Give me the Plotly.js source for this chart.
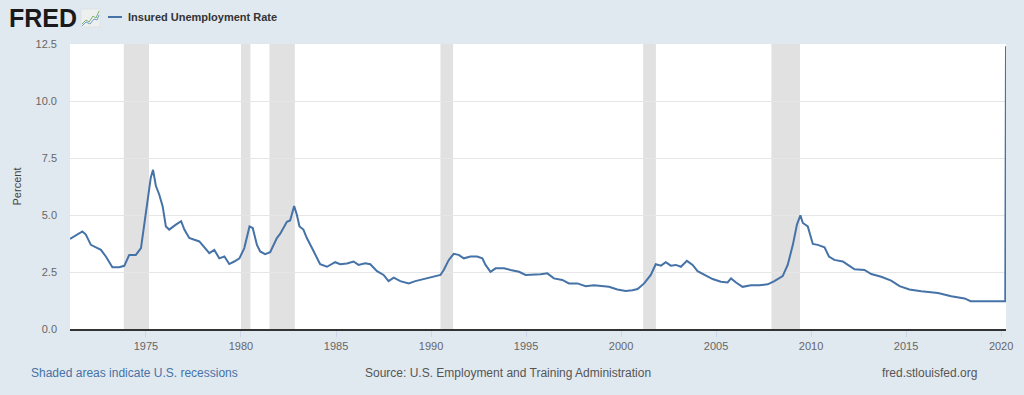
<!DOCTYPE html>
<html>
<head>
<meta charset="utf-8">
<script src="https://cdn.plot.ly/plotly-3.0.1.min.js"></script>
<style>
html,body{margin:0;padding:0;background:#e1e9f0;}
#chart{width:1024px;height:395px;}
</style>
</head>
<body>
<div id="chart"></div>
<script>
// Series: Insured Unemployment Rate (percent)
const dates = [
"1971-01-02","1971-04-22","1971-08-28","1971-11-03","1972-02-07","1972-06-13","1972-08-18","1972-11-21",
"1973-03-27","1973-08-03","1973-11-10","1974-02-14","1974-06-20","1974-09-27","1975-01-01","1975-04-04",
"1975-05-17","1975-07-11","1975-09-13","1975-11-17","1976-01-19","1976-03-23","1976-07-29","1976-11-07",
"1977-01-08","1977-04-11","1977-10-22","1978-01-26","1978-05-03","1978-08-07","1978-11-10","1979-02-17",
"1979-05-21","1979-08-25","1979-12-02","1980-03-05","1980-06-13","1980-08-14","1980-11-03","1981-01-04",
"1981-04-08","1981-07-15","1981-11-21","1982-01-22","1982-03-27","1982-06-02","1982-08-03","1982-10-19",
"1982-12-09","1983-01-30","1983-04-15","1983-06-20","1983-09-27","1983-11-28","1984-03-02","1984-07-11",
"1984-12-16","1985-03-23","1985-07-29","1985-12-05","1986-03-09","1986-07-15","1986-10-22","1987-02-28",
"1987-07-04","1987-10-08","1988-01-15","1988-05-21","1988-10-29","1989-03-05","1989-08-14","1990-01-22",
"1990-07-01","1990-09-02","1990-12-09","1991-03-13","1991-06-16","1991-09-23","1992-01-30","1992-06-05",
"1992-09-13","1992-11-14","1993-02-17","1993-05-25","1993-11-03","1994-03-09","1994-08-18","1994-12-23",
"1995-06-02","1995-10-08","1996-02-14","1996-06-20","1996-11-28","1997-04-04","1997-09-13","1998-02-21",
"1998-07-29","1998-12-05","1999-05-14","1999-10-22","2000-04-01","2000-08-07","2000-11-14","2001-03-20",
"2001-07-26","2001-10-29","2002-02-07","2002-05-10","2002-08-14","2002-11-21","2003-02-25","2003-06-20",
"2003-10-08","2004-01-11","2004-05-17","2004-10-26","2005-04-04","2005-08-10","2005-10-15","2006-01-19",
"2006-05-25","2006-11-03","2007-04-11","2007-09-20","2008-01-26","2008-07-04","2008-10-08","2009-01-15",
"2009-04-04","2009-06-09","2009-07-26","2009-10-29","2010-02-03","2010-05-10","2010-09-16","2010-12-10",
"2011-03-23","2011-09-02","2011-12-09","2012-04-15","2012-10-22","2013-03-02","2013-09-09","2014-03-20",
"2014-08-28","2015-03-05","2015-10-19","2016-09-05","2017-05-17","2018-01-30","2018-05-25","2019-04-26",
"2020-03-21","2020-04-04"
];
const rates = [
3.95,4.09,4.28,4.14,3.69,3.55,3.47,3.18,
2.71,2.71,2.77,3.25,3.25,3.55,5.24,6.65,
6.98,6.27,5.90,5.39,4.50,4.36,4.58,4.73,
4.36,3.99,3.84,3.59,3.33,3.47,3.10,3.18,
2.85,2.96,3.10,3.55,4.50,4.43,3.69,3.40,
3.28,3.37,3.99,4.17,4.43,4.70,4.76,5.39,
5.02,4.50,4.36,3.99,3.55,3.28,2.84,2.73,
2.93,2.84,2.87,2.96,2.81,2.88,2.84,2.54,
2.37,2.10,2.25,2.10,2.00,2.10,2.19,2.29,
2.37,2.59,3.03,3.30,3.25,3.10,3.18,3.18,
3.10,2.81,2.51,2.66,2.66,2.59,2.51,2.37,
2.37,2.40,2.44,2.22,2.15,2.00,2.00,1.88,
1.92,1.88,1.85,1.73,1.67,1.70,1.75,2.00,
2.37,2.84,2.78,2.93,2.78,2.81,2.73,2.99,
2.81,2.54,2.37,2.19,2.07,2.04,2.22,2.04,
1.85,1.92,1.92,1.96,2.10,2.32,2.81,3.69,
4.58,4.99,4.65,4.50,3.73,3.69,3.58,3.18,
3.03,2.96,2.81,2.62,2.59,2.41,2.29,2.12,
1.88,1.73,1.66,1.58,1.44,1.34,1.22,1.22,
1.22,12.4
];
// U.S. recessions (shaded)
const recessionStart = ["1973-11-01","1980-01-01","1981-07-01","1990-07-01","2001-03-01","2007-12-01"];
const recessionEnd   = ["1975-03-01","1980-07-01","1982-11-01","1991-03-01","2001-11-01","2009-06-01"];

const seriesName = "Insured Unemployment Rate";
const yTicks = [0, 2.5, 5, 7.5, 10, 12.5];

const L = 70, R = 18, T = 44, B = 66, W = 1024, H = 395;
const PW = W - L - R, PH = H - T - B;
const px = x => (x - L) / PW;
const py = y => (H - B - y) / PH;

const shapes = recessionStart.map((s, i) => ({
  type: 'rect', xref: 'x', yref: 'paper', x0: s, x1: recessionEnd[i], y0: 0, y1: 1,
  fillcolor: '#e1e1e1', line: {width: 0}, layer: 'below'
}));
// legend line sample
shapes.push({type: 'line', xref: 'paper', yref: 'paper', x0: px(108), x1: px(122), y0: py(17), y1: py(17),
  line: {color: '#4572a7', width: 2}});
// FRED logo icon
shapes.push({type: 'rect', xref: 'paper', yref: 'paper', x0: px(81), x1: px(100), y0: py(27), y1: py(9),
  fillcolor: '#eef0f0', line: {color: '#d4d8da', width: 0.5}});
shapes.push({type: 'path', xref: 'paper', yref: 'paper',
  path: `M ${px(82)} ${py(24)} L ${px(86)} ${py(20)} L ${px(89)} ${py(22)} L ${px(93)} ${py(16)} L ${px(96)} ${py(18)} L ${px(99)} ${py(11)}`,
  line: {color: '#7fb069', width: 1}});
shapes.push({type: 'path', xref: 'paper', yref: 'paper',
  path: `M ${px(82)} ${py(26)} L ${px(86)} ${py(22)} L ${px(90)} ${py(24)} L ${px(94)} ${py(19)} L ${px(97)} ${py(20)} L ${px(99)} ${py(15)}`,
  line: {color: '#6a9fcf', width: 1}});

const font = 'Liberation Sans, Arial, sans-serif';
const annotations = [
  {xref: 'paper', yref: 'paper', x: px(7), y: py(18.5), xanchor: 'left', yanchor: 'middle', showarrow: false,
   text: '<b>FRED</b>', font: {family: font, size: 25, color: '#1a1a1a'}},
  {xref: 'paper', yref: 'paper', x: px(126), y: py(17), xanchor: 'left', yanchor: 'middle', showarrow: false,
   text: '<b>' + seriesName + '</b>', font: {family: font, size: 11, color: '#333333'}},
  {xref: 'paper', yref: 'paper', x: px(29), y: py(373), xanchor: 'left', yanchor: 'middle', showarrow: false,
   text: 'Shaded areas indicate U.S. recessions', font: {family: font, size: 12, color: '#4572a7'}},
  {xref: 'paper', yref: 'paper', x: px(508), y: py(373), xanchor: 'center', yanchor: 'middle', showarrow: false,
   text: 'Source: U.S. Employment and Training Administration', font: {family: font, size: 12, color: '#555555'}},
  {xref: 'paper', yref: 'paper', x: px(979), y: py(373), xanchor: 'right', yanchor: 'middle', showarrow: false,
   text: 'fred.stlouisfed.org', font: {family: font, size: 12, color: '#555555'}}
];

const trace = {
  x: dates, y: rates, type: 'scatter', mode: 'lines', name: seriesName,
  line: {color: '#4572a7', width: 2}, hoverinfo: 'x+y'
};

const layout = {
  width: W, height: H,
  margin: {l: L, r: R, t: T, b: B, pad: 0},
  paper_bgcolor: '#e1e9f0', plot_bgcolor: '#ffffff',
  showlegend: false,
  font: {family: font, size: 11, color: '#666666'},
  xaxis: {
    type: 'date', range: [dates[0], dates[dates.length - 1]],
    tick0: '1975-01-01', dtick: 'M60', tickformat: '%Y',
    showgrid: false, zeroline: false,
    showline: true, linecolor: '#333333', linewidth: 2,
    ticks: 'outside', ticklen: 6, tickcolor: '#ccd6eb', tickwidth: 1,
    tickfont: {family: font, size: 11, color: '#666666'}
  },
  yaxis: {
    range: [0, 12.5], tickvals: yTicks, tickformat: '.1f',
    showgrid: true, gridcolor: '#e6e6e6', gridwidth: 1, zeroline: false,
    ticks: '', ticklabelstandoff: 12,
    tickfont: {family: font, size: 11, color: '#666666'},
    title: {text: 'Percent', standoff: 11, font: {family: font, size: 11, color: '#444444'}}
  },
  shapes: shapes,
  annotations: annotations
};

Plotly.newPlot('chart', [trace], layout, {displayModeBar: false, staticPlot: true});
</script>
</body>
</html>
